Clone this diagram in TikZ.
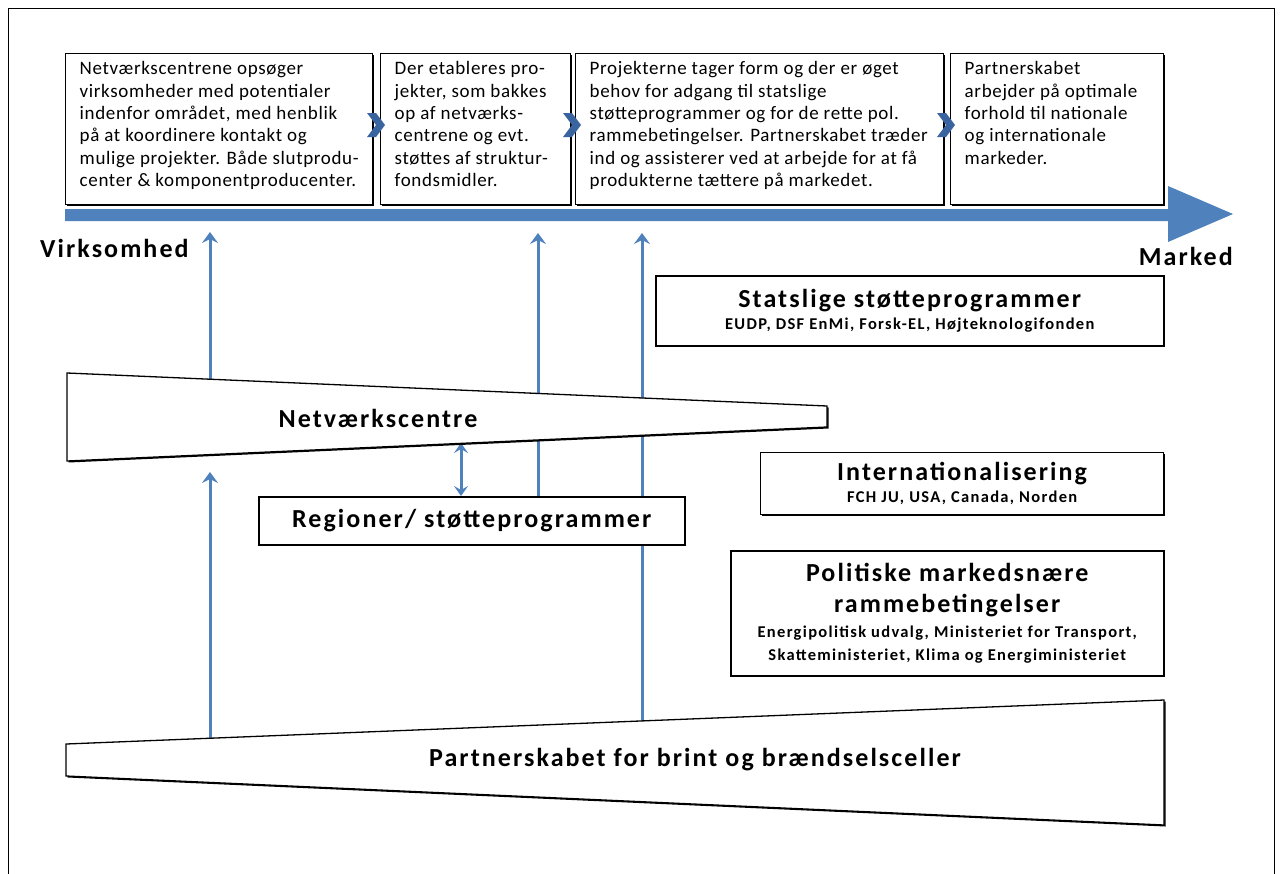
\documentclass[tikz,border=0pt]{standalone}
\usepackage{fontspec}
\setmainfont{Carlito}
\newfontfamily\lsboxfont[LetterSpace=3.5]{Carlito}
\newfontfamily\lstitfont[LetterSpace=8]{Carlito}
\newfontfamily\lssubfont[LetterSpace=8]{Carlito}
\usetikzlibrary{arrows.meta,shadows}
\definecolor{ablue}{RGB}{79,129,189}
\definecolor{cblue}{RGB}{58,100,160}
\newcommand{\boxfont}{\lsboxfont\fontsize{19}{22.3}\selectfont}
\newcommand{\titfont}{\lstitfont\fontsize{26}{30}\selectfont\bfseries}
\newcommand{\subfont}{\lssubfont\fontsize{16.5}{22.5}\selectfont\bfseries}
\newcommand{\bxline}[1]{\mbox{#1}}
\begin{document}
\begin{tikzpicture}[x=1pt,y=-1pt,
  topbox/.style={draw=black, line width=1.4pt, fill=white, inner xsep=14pt, inner ysep=8pt,
     general shadow={fill=black, shadow xshift=1.5pt, shadow yshift=-1.5pt}},
  infobox/.style={draw=black, line width=1.5pt, fill=white, align=center, inner sep=0pt,
     font=\subfont, general shadow={fill=black, shadow xshift=1pt, shadow yshift=-1.2pt}},
  upar/.style={draw=ablue, line width=3pt, -{Stealth[length=11pt,width=16pt,inset=4pt]}},
  dblar/.style={draw=ablue, line width=3pt, {Stealth[length=10pt,width=14pt,inset=4pt]}-{Stealth[length=10pt,width=14pt,inset=4pt]}},
  trap/.style={draw=black, line width=1.3pt, fill=white},
  lbl/.style={font=\titfont, inner sep=0pt}
]
\useasboundingbox (0,0) rectangle (1282,873);
% outer frame
\draw[line width=1pt] (8,8) rectangle (1274,880);

% ---- top boxes ----
\node[topbox, anchor=north west] (b1) at (65,53)
 {\parbox[t][135pt][t]{279pt}{\raggedright\boxfont
 \bxline{Netværkscentrene opsøger}\\
 \bxline{virksomheder med potentialer}\\
 \bxline{indenfor området, med henblik}\\
 \bxline{på at koordinere kontakt og}\\
 \bxline{mulige projekter. Både slutprodu-}\\
 \bxline{center \& komponentproducenter.}}};
\node[topbox, anchor=north west] (b2) at (380,53)
 {\parbox[t][135pt][t]{162pt}{\raggedright\boxfont
 \bxline{Der etableres pro-}\\
 \bxline{jekter, som bakkes}\\
 \bxline{op af netværks-}\\
 \bxline{centrene og evt.}\\
 \bxline{støttes af struktur-}\\
 \bxline{fondsmidler.}}};
\node[topbox, anchor=north west] (b3) at (575,53)
 {\parbox[t][135pt][t]{340pt}{\raggedright\boxfont
 \bxline{Projekterne tager form og der er øget}\\
 \bxline{behov for adgang til statslige}\\
 \bxline{støtteprogrammer og for de rette pol.}\\
 \bxline{rammebetingelser. Partnerskabet træder}\\
 \bxline{ind og assisterer ved at arbejde for at få}\\
 \bxline{produkterne tættere på markedet.}}};
\node[topbox, anchor=north west] (b4) at (950,53)
 {\parbox[t][135pt][t]{185pt}{\raggedright\boxfont
 \bxline{Partnerskabet}\\
 \bxline{arbejder på optimale}\\
 \bxline{forhold til nationale}\\
 \bxline{og internationale}\\
 \bxline{markeder.}}};

% chevrons between boxes
\foreach \cx in {367,563,937}{
  \fill[cblue] (\cx,113) -- (\cx+9,113) -- (\cx+18,125) -- (\cx+9,137) -- (\cx,137) -- (\cx+9,125) -- cycle;
}

% big timeline arrow
\fill[ablue] (65,209) -- (1168,209) -- (1168,186) -- (1233,214) -- (1168,242) -- (1168,221) -- (65,221) -- cycle;
\node[lbl, anchor=west] (virk) at (40,248) {Virksomhed};
\node[lbl, anchor=east] (mark) at (1233,256) {Marked};

% named coordinates for connectors
\coordinate (t210) at (210,232);
\coordinate (t538) at (538,233);
\coordinate (t642) at (642,233);
\coordinate (nTop210) at (210,379.5);
\coordinate (nBot210) at (210,472);
\coordinate (nBot461) at (461,443);
\coordinate (pTop210) at (210,738.5);
\coordinate (pTop642) at (642,721);

% right info boxes
\node[infobox, anchor=north west, minimum width=508pt, minimum height=70pt] (stat) at (655,275)
 {{\titfont Statslige støtteprogrammer}\\
  EUDP, DSF EnMi, Forsk-EL, Højteknologifonden};

% Regioner box (line 642 passes behind it)
\draw[upar] (pTop642) -- (t642);
\node[infobox, anchor=north west, minimum width=426pt, minimum height=48pt, font=\titfont] (reg) at (258,496)
 {Regioner/ støtteprogrammer};
\draw[upar] (reg.north -| t538) -- (t538);
\draw[upar] (nTop210) -- (t210);
\draw[upar] (pTop210) -- (nBot210);
\draw[dblar] (nBot461) -- (reg.north -| nBot461);

% Netværkscentre trapezoid
\fill[black] (68.5,374.5) -- (828.5,407.5) -- (828.5,428.5) -- (68.5,462.5) -- cycle;
\draw[trap] (67,373) -- (827,406) -- (827,427) -- (67,461) -- cycle;
\node[lbl] (net) at (378,418) {Netværkscentre};

\node[infobox, anchor=north west, minimum width=403pt, minimum height=62pt, line width=1.2pt] (intl) at (760,452)
 {{\titfont Internationalisering}\\
  FCH JU, USA, Canada, Norden};

\node[infobox, anchor=north west, minimum width=433pt, minimum height=125pt] (pol) at (730,550)
 {{\titfont Politiske markedsnære}\\[8pt]
  {\titfont rammebetingelser}\\[3pt]
  Energipolitisk udvalg, Ministeriet for Transport,\\
  Skatteministeriet, Klima og Energiministeriet};

% Partnerskab trapezoid
\fill[black] (67.5,745.5) -- (1165.5,701.5) -- (1165.5,826.5) -- (67.5,777.5) -- cycle;
\draw[trap] (66,744) -- (1164,700) -- (1164,825) -- (66,776) -- cycle;
\node[lbl] (part) at (695,760) {Partnerskabet for brint og brændselsceller};
\end{tikzpicture}
\end{document}
